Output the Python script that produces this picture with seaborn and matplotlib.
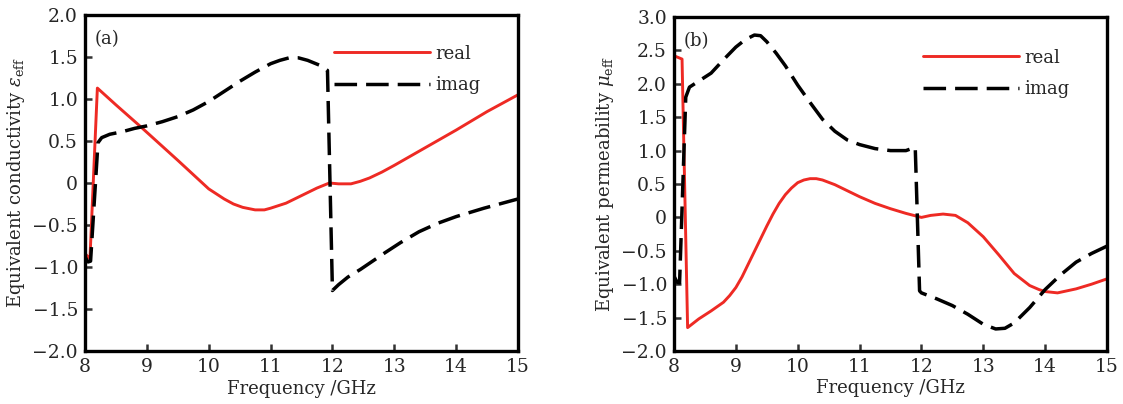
import matplotlib
matplotlib.use("Agg")
import matplotlib.pyplot as plt
import seaborn as sns
import pandas as pd

# ---------------- data ----------------
# panel (a): equivalent conductivity
freq_a_real = [8.00, 8.05, 8.08, 8.20, 8.35, 8.50, 8.70, 8.90, 9.20, 9.50, 9.75,
               10.00, 10.25, 10.40, 10.55, 10.75, 10.90, 11.00, 11.25, 11.50, 11.75,
               11.95, 12.10, 12.30, 12.45, 12.60, 12.80, 13.00, 13.50, 14.00, 14.50,
               15.00]
eps_real = [-0.84, -0.88, -0.90, 1.13, 1.03, 0.93, 0.80, 0.67, 0.47, 0.27, 0.10,
            -0.07, -0.19, -0.25, -0.29, -0.32, -0.32, -0.30, -0.24, -0.15, -0.06,
            0.00, -0.01, -0.01, 0.02, 0.06, 0.13, 0.21, 0.42, 0.63, 0.85,
            1.05]

freq_a_imag = [8.00, 8.05, 8.09, 8.21, 8.27, 8.40, 8.60, 8.80, 9.00, 9.25, 9.50,
               9.75, 10.00, 10.25, 10.50, 10.75, 11.00, 11.15, 11.30, 11.45, 11.60,
               11.80, 11.92, 12.00, 12.10, 12.25, 12.45, 12.65, 12.85, 13.10, 13.40,
               13.70, 14.00, 14.45, 15.00]
eps_imag = [-0.88, -0.94, -0.93, 0.48, 0.54, 0.58, 0.61, 0.65, 0.68, 0.73, 0.79,
            0.87, 0.97, 1.09, 1.21, 1.32, 1.42, 1.46, 1.49, 1.49, 1.46,
            1.40, 1.34, -1.28, -1.21, -1.12, -1.03, -0.93, -0.83, -0.71, -0.58,
            -0.48, -0.40, -0.30, -0.19]

# panel (b): equivalent permeability
freq_b_real = [8.00, 8.13, 8.22, 8.40, 8.60, 8.80, 8.90, 9.00, 9.10, 9.20, 9.30,
               9.40, 9.50, 9.60, 9.70, 9.80, 9.90, 10.00, 10.10, 10.20, 10.30,
               10.40, 10.60, 10.80, 11.00, 11.25, 11.50, 11.75, 12.00, 12.15, 12.35,
               12.55, 12.75, 13.00, 13.25, 13.50, 13.75, 13.90, 14.00, 14.20, 14.50,
               14.75, 15.00]
mu_real = [2.42, 2.37, -1.65, -1.52, -1.40, -1.27, -1.17, -1.05, -0.89, -0.70, -0.51,
           -0.32, -0.13, 0.05, 0.21, 0.34, 0.44, 0.52, 0.56, 0.58, 0.58,
           0.56, 0.49, 0.40, 0.31, 0.21, 0.13, 0.06, 0.00, 0.03, 0.05,
           0.03, -0.08, -0.29, -0.56, -0.84, -1.02, -1.08, -1.11, -1.13, -1.07,
           -1.00, -0.92]

freq_b_imag = [8.00, 8.05, 8.09, 8.19, 8.25, 8.35, 8.60, 8.80, 9.00, 9.15, 9.30,
               9.40, 9.50, 9.65, 9.80, 10.00, 10.20, 10.40, 10.60, 10.80, 11.00,
               11.25, 11.50, 11.75, 11.90, 11.97, 12.00, 12.25, 12.50, 12.75, 13.00,
               13.20, 13.35, 13.50, 13.75, 14.00, 14.25, 14.50, 14.75, 15.00]
mu_imag = [-0.88, -0.97, -0.98, 1.80, 1.95, 2.01, 2.16, 2.36, 2.55, 2.66, 2.73,
           2.72, 2.63, 2.46, 2.27, 1.98, 1.72, 1.47, 1.29, 1.16, 1.09,
           1.03, 1.00, 1.00, 1.05, -1.10, -1.13, -1.22, -1.32, -1.45, -1.60,
           -1.67, -1.66, -1.58, -1.35, -1.08, -0.86, -0.67, -0.54, -0.43]

x_ticks = [8, 9, 10, 11, 12, 13, 14, 15]
y_ticks_a = [-2.0, -1.5, -1.0, -0.5, 0.0, 0.5, 1.0, 1.5, 2.0]
y_labels_a = ["\u22122.0", "\u22121.5", "\u22121.0", "\u22120.5", "0", "0.5", "1.0", "1.5", "2.0"]
y_ticks_b = [-2.0, -1.5, -1.0, -0.5, 0.0, 0.5, 1.0, 1.5, 2.0, 2.5, 3.0]
y_labels_b = ["\u22122.0", "\u22121.5", "\u22121.0", "\u22120.5", "0", "0.5", "1.0",
              "1.5", "2.0", "2.5", "3.0"]
series_names = ["real", "imag"]

# ---------------- style ----------------
sns.set_style("ticks")
plt.rcParams["font.family"] = ["DejaVu Serif"]
plt.rcParams["mathtext.fontset"] = "dejavuserif"
FS = 13
TFS = 13.5
RED = "#ee2a24"

W, H = 1123, 404
fig = plt.figure(figsize=(W / 100, H / 100), dpi=100)
ax_a = fig.add_axes([85 / W, 1 - 351 / H, 433 / W, 336 / H])
ax_b = fig.add_axes([674 / W, 1 - 351 / H, 433 / W, 334 / H])


def draw(ax, fr, re, fi, im, ylim, yt, ytl, ylabel, tag, leg_y, ylab_x):
    df_r = pd.DataFrame({"f": fr, "v": re})
    df_i = pd.DataFrame({"f": fi, "v": im})
    sns.lineplot(data=df_r, x="f", y="v", ax=ax, color=RED, lw=2.1,
                 sort=False, estimator=None, label=series_names[0])
    sns.lineplot(data=df_i, x="f", y="v", ax=ax, color="black", lw=2.5,
                 linestyle=(0, (6.5, 2.6)), sort=False, estimator=None,
                 label=series_names[1])
    ax.set_xlim(8, 15)
    ax.set_ylim(*ylim)
    ax.set_xticks(x_ticks)
    ax.set_xticklabels([str(t) for t in x_ticks])
    ax.set_yticks(yt)
    ax.set_yticklabels(ytl)
    for s in ax.spines.values():
        s.set_linewidth(2.4)
        s.set_color("black")
    ax.tick_params(axis="both", direction="in", length=5, width=1.8,
                   color="#333333", labelsize=TFS, pad=5,
                   top=False, right=False)
    ax.set_xlabel("Frequency /GHz", fontsize=FS)
    ax.xaxis.set_label_coords(0.5, -0.085)
    ax.set_ylabel(ylabel, fontsize=FS)
    ax.yaxis.set_label_coords(ylab_x, 0.5)
    ax.text(0.022, 0.955, tag, transform=ax.transAxes, va="top", ha="left",
            fontsize=FS)
    ax.legend(loc="upper left", bbox_to_anchor=(0.575, leg_y), frameon=False,
              fontsize=FS, handlelength=5.3, handletextpad=0.3,
              labelspacing=0.75, borderaxespad=0, borderpad=0)


draw(ax_a, freq_a_real, eps_real, freq_a_imag, eps_imag, (-2.0, 2.0),
     y_ticks_a, y_labels_a, r"Equivalent conductivity $\epsilon_{\mathrm{eff}}$",
     "(a)", 0.912, -0.135)
draw(ax_b, freq_b_real, mu_real, freq_b_imag, mu_imag, (-2.0, 3.0),
     y_ticks_b, y_labels_b, r"Equivalent permeability $\mu_{\mathrm{eff}}$",
     "(b)", 0.905, -0.135)

fig.savefig("out.png", dpi=100)
